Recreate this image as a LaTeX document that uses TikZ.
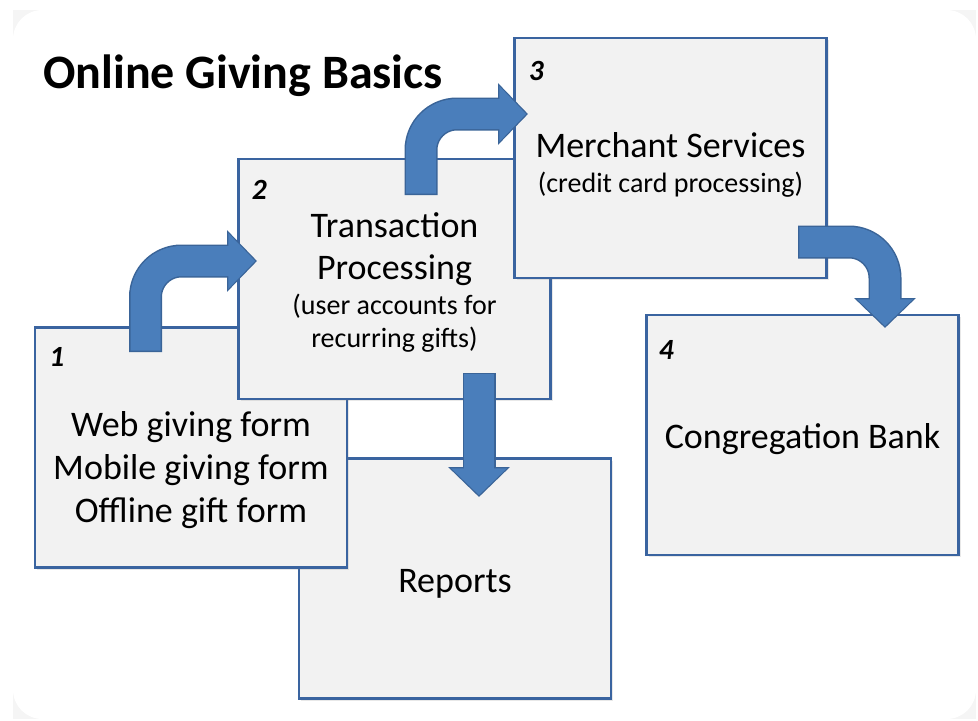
\documentclass[tikz,border=0pt]{standalone}
\usepackage{fontspec}
\setmainfont{Carlito}
\usetikzlibrary{arrows.meta,shadows}

\definecolor{boxfill}{HTML}{F2F2F2}
\definecolor{boxline}{HTML}{3A64A0}
\definecolor{arrowfill}{HTML}{4A7EBB}
\definecolor{arrowline}{HTML}{3A6498}

\tikzset{
  stepbox/.style={rectangle, fill=boxfill, draw=boxline, line width=1.9pt,
    minimum width=234pt, minimum height=180pt, inner sep=0pt,
    drop shadow={shadow xshift=1.5pt, shadow yshift=-1.5pt, opacity=0.18}},
  numlabel/.style={font=\fontsize{22}{22}\selectfont\bfseries\itshape, inner sep=0pt},
  bigtext/.style={font=\fontsize{27}{32.5}\selectfont, align=center, inner sep=0pt},
  smalltext/.style={font=\fontsize{21}{25}\selectfont, align=center, inner sep=0pt},
  arrowedge/.style={draw=arrowline, line width=24.75pt, rounded corners=27pt,
    -{Triangle[length=22.5pt, width=45pt]}},
  arrowbody/.style={draw=arrowfill, line width=22.5pt, rounded corners=27pt,
    shorten >=1.4pt, shorten <=1pt, -{Triangle[length=20pt, width=40.5pt]}}
}
\newcommand{\blockarrow}[1]{\draw[arrowedge] #1; \draw[arrowbody] #1;}

\begin{document}
\begin{tikzpicture}[x=0.75pt, y=-0.75pt]
% page and card
\fill[white] (0,0) rectangle (978,721);
\fill[gray!8] (13,10) rectangle (976,719);
\fill[white, rounded corners=22pt] (13,10) rectangle (976,719);
\useasboundingbox (0,0) rectangle (978,721);

\node[anchor=base west, inner sep=0pt, font=\fontsize{36}{40}\selectfont\bfseries] (title) at (43,88) {Online Giving Basics};

% boxes, back to front
\node (rep) [stepbox] at (455,578.5) {};
\node (reptext) [bigtext] at ([yshift=-4pt]rep.center) {Reports};

\node (b1) [stepbox] at (191,447.5) {};
\node (n1) [numlabel] at ([shift={(23,31)}]b1.north west) {1};
\node (b1text) [bigtext] at ([yshift=-17pt]b1.center) {Web giving form\\Mobile giving form\\Offline gift form};

\node (b2) [stepbox] at (394.5,279) {};
\node (n2) [numlabel] at ([shift={(22,32)}]b2.north west) {2};
\node (b2text) [bigtext, font=\fontsize{27}{31}\selectfont] at (394.5,249) {Transaction\\Processing};
\node (b2sub) [smalltext] at (394.5,323.5) {(user accounts for\\recurring gifts)};

\node (b3) [stepbox] at (670.5,158) {};
\node (n3) [numlabel] at ([shift={(23,34)}]b3.north west) {3};
\node (b3text) [bigtext] at (670.5,145) {Merchant Services};
\node (b3sub) [smalltext] at (670.5,185) {(credit card processing)};

\node (b4) [stepbox] at (802.5,435) {};
\node (n4) [numlabel] at ([shift={(21,36)}]b4.north west) {4};
\node (b4text) [bigtext] at ([yshift=-3pt]b4.center) {Congregation Bank};

% arrow ends
\coordinate (a1s) at (145.5,352);
\coordinate (a1e) at (257,261);
\coordinate (a2s) at (421,195);
\coordinate (a2e) at (528,114);
\coordinate (a3s) at (798,242);
\coordinate (a3e) at (885,328);
\coordinate (a4s) at (479,373);
\coordinate (a4e) at (479,497);

\blockarrow{(a1s) |- (a1e)}
\blockarrow{(a2s) |- (a2e)}
\blockarrow{(a3s) -| (a3e)}
\blockarrow{(a4s) -- (a4e)}
\end{tikzpicture}
\end{document}
